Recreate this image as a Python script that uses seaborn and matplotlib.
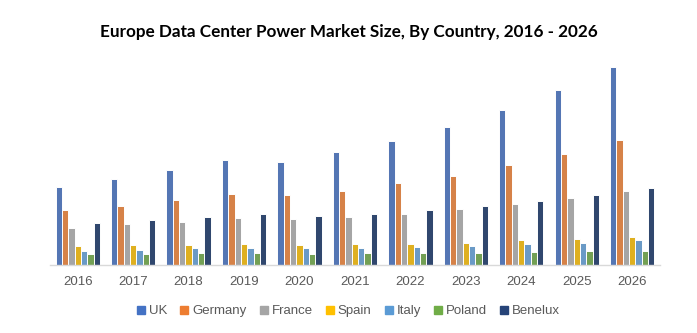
import matplotlib
matplotlib.use("Agg")
import matplotlib.pyplot as plt
import seaborn as sns
import pandas as pd

years = ["2016", "2017", "2018", "2019", "2020", "2021", "2022", "2023", "2024", "2025", "2026"]
countries = ["UK", "Germany", "France", "Spain", "Italy", "Poland", "Benelux"]
uk      = [78, 86, 95, 105, 103, 113, 124, 138, 155, 175, 198]
germany = [55, 59, 65, 71, 70, 74, 82, 89, 100, 111, 125]
france  = [37, 41, 43, 47, 46, 48, 51, 56, 61, 67, 74]
spain   = [19, 20, 20, 21, 20, 21, 21, 22, 25, 26, 28]
italy   = [14, 15, 17, 17, 17, 17, 18, 19, 21, 22, 25]
poland  = [11, 11, 12, 12, 11, 12, 12, 12, 13, 14, 14]
benelux = [42, 45, 48, 51, 49, 51, 55, 59, 64, 70, 77]
colors = ["#4472C4", "#ED7D31", "#A5A5A5", "#FFC000", "#5B9BD5", "#70AD47", "#264478"]

series = [uk, germany, france, spain, italy, poland, benelux]
rows = []
for c, vals in zip(countries, series):
    for y, v in zip(years, vals):
        rows.append({"Year": y, "Country": c, "Value": v})
df = pd.DataFrame(rows)

sns.set_style("white")
plt.rcParams["font.family"] = ["Liberation Sans", "DejaVu Sans"]

fig = plt.figure(figsize=(6.97, 3.33), dpi=100)
ax = fig.add_axes([0.0717, 0.204, 0.875, 0.631])
sns.barplot(data=df, x="Year", y="Value", hue="Country", order=years,
            hue_order=countries, palette=colors, width=0.8, gap=0,
            edgecolor="white", linewidth=0.7, ax=ax, legend=False)
ax.set_ylim(0, 210)
ax.set_xlim(-0.5, len(years) - 0.5)
ax.set_xlabel("")
ax.set_ylabel("")
ax.set_yticks([])
for s in ["top", "right", "left"]:
    ax.spines[s].set_visible(False)
ax.spines["bottom"].set_color("#D9D9D9")
ax.spines["bottom"].set_linewidth(1)
ax.tick_params(axis="x", length=0, labelsize=9.5, colors="#595959", pad=8)

fig.text(0.5, 0.905, "Europe Data Center Power Market Size, By Country, 2016 - 2026",
         ha="center", va="center", fontsize=12.3, fontweight="bold",
         family=["Lato", "DejaVu Sans"], color="#000000")

handles = [plt.Rectangle((0, 0), 1, 1, color=c) for c in colors]
leg = fig.legend(handles, countries, loc="center", bbox_to_anchor=(0.5, 0.065),
                 ncol=7, frameon=False, fontsize=9.5, handlelength=0.6,
                 handleheight=0.6, handletextpad=0.3, columnspacing=1.0)
for t in leg.get_texts():
    t.set_color("#595959")

fig.savefig("out.png", dpi=100)
